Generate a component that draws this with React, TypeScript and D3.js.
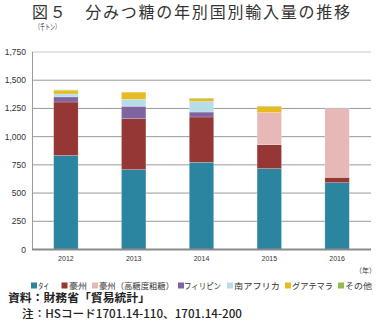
import React from "react";
import * as d3 from "d3";

const categories = ["2012", "2013", "2014", "2015", "2016"];
const seriesNames = ["タイ", "豪州", "豪州（高糖度粗糖）", "フィリピン", "南アフリカ", "グアテマラ", "その他"];
const thai = [833, 708, 773, 717, 592];
const australia = [474, 451, 401, 211, 47];
const australiaHigh = [0, 0, 0, 285, 609];
const philippines = [45, 110, 44, 0, 0];
const southAfrica = [26, 62, 93, 0, 0];
const guatemala = [32, 63, 26, 52, 0];
const others = [5, 0, 5, 5, 0];
const yTicks = [0, 250, 500, 750, 1000, 1250, 1500, 1750];
const colors = ["#2b85a0", "#953735", "#e6b9b8", "#8064a2", "#b7dee8", "#e8bb22", "#8fc04e"];

const W = 377, H = 326;
const M = { left: 32, right: 371, top: 52, bottom: 249.5 };
// legend layout: [square x, text x, text width]
const legendLayout = [
  [31, 38, 11],
  [61.5, 69, 18],
  [92, 99, 75],
  [178, 184, 37],
  [227, 234, 46],
  [285, 292, 41],
  [338, 345, 27],
];

export default function App() {
  const seriesVals = [thai, australia, australiaHigh, philippines, southAfrica, guatemala, others];
  const rows = categories.map((c, i) => {
    const r: any = { cat: c };
    seriesNames.forEach((s, k) => (r[s] = seriesVals[k][i]));
    return r;
  });
  const stack = d3.stack<any>().keys(seriesNames)(rows);
  const x = d3.scaleBand().domain(categories).range([M.left, M.right]).paddingInner(0.64).paddingOuter(0.32);
  const y = d3.scaleLinear().domain([0, 1750]).range([M.bottom, M.top]);
  const font = "'Noto Sans CJK JP', 'Noto Sans', sans-serif";
  const numFont = "'Liberation Sans', Arial, sans-serif";

  return (
    <svg width={W} height={H} style={{ position: "absolute", left: 0, top: 0, background: "#fff" }}>
      <text x={32} y={18} fontFamily={font} fontSize={16} fill="#333" textLength={318} lengthAdjust="spacing">
        図５　分みつ糖の年別国別輸入量の推移
      </text>
      <text x={35} y={30} fontFamily={font} fontSize={7.5} fill="#333" textLength={25} lengthAdjust="spacingAndGlyphs">（千トン）</text>
      {yTicks.map((t) => (
        <g key={t}>
          {t > 0 && (
            <line x1={M.left} x2={M.right} y1={y(t)} y2={y(t)} stroke={t === 1750 ? "#c8c8c8" : "#9a9a9a"} strokeWidth={1} />
          )}
          <text x={26} y={y(t) + 3} textAnchor="end" fontFamily={numFont} fontSize={8.5} fill="#333">
            {d3.format(",")(t)}
          </text>
        </g>
      ))}
      <line x1={M.left + 0.5} x2={M.left + 0.5} y1={M.top} y2={M.bottom} stroke="#9a9a9a" strokeWidth={1} />
      {stack.map((layer, k) => (
        <g key={k} fill={colors[k]}>
          {layer.map((d, i) =>
            d[1] - d[0] > 0 ? (
              <rect key={i} x={x(categories[i])!} width={x.bandwidth()} y={y(d[1])} height={y(d[0]) - y(d[1])} stroke="#ffffff" strokeOpacity={0.4} strokeWidth={0.5} />
            ) : null
          )}
        </g>
      ))}
      <line x1={M.left} x2={M.right} y1={M.bottom} y2={M.bottom} stroke="#8a8a8a" strokeWidth={2} />
      {categories.map((c) => (
        <text key={c} x={x(c)! + x.bandwidth() / 2} y={261} textAnchor="middle" fontFamily={numFont} fontSize={7} fill="#333">
          {c}
        </text>
      ))}
      <text x={376} y={273} textAnchor="end" fontFamily={font} fontSize={7} fill="#333">（年）</text>
      {seriesNames.map((s, k) => (
        <g key={s}>
          <rect x={legendLayout[k][0]} y={282.5} width={6} height={6} fill={colors[k]} />
          <text x={legendLayout[k][1]} y={288.5} fontFamily={font} fontSize={8.5} fill="#333" textLength={legendLayout[k][2]} lengthAdjust="spacingAndGlyphs">{s}</text>
        </g>
      ))}
      <text x={8} y={302} fontFamily={font} fontSize={11.5} fontWeight={700} fill="#222" textLength={142} lengthAdjust="spacingAndGlyphs">資料：財務省「貿易統計」</text>
      <text x={22} y={318} fontFamily={font} fontSize={11} fontWeight={500} fill="#222" textLength={220} lengthAdjust="spacingAndGlyphs">注：HSコード1701.14-110、1701.14-200</text>
    </svg>
  );
}
